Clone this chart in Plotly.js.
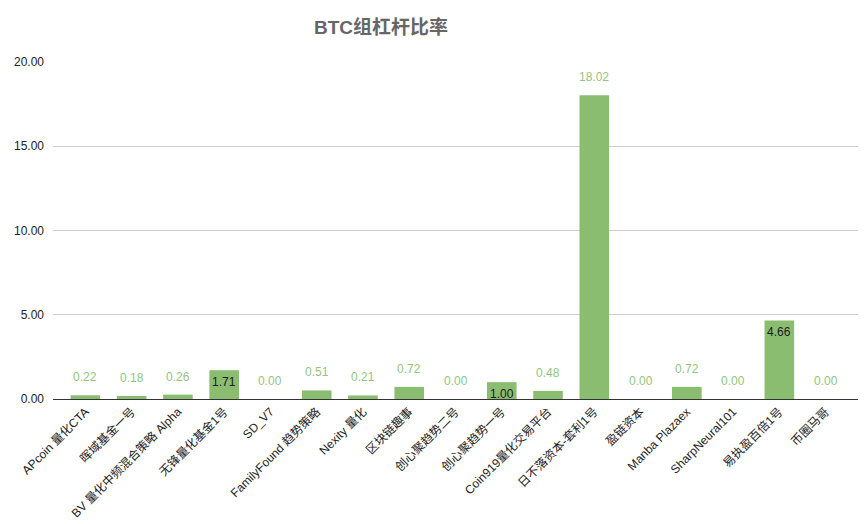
<!DOCTYPE html>
<html>
<head>
<meta charset="utf-8">
<script src="https://cdn.plot.ly/plotly-3.0.1.min.js"></script>
<style>
  html, body { margin: 0; padding: 0; background: #fff; }
  #chart { width: 868px; height: 524px; }
</style>
</head>
<body>
<div id="chart"></div>
<script>
// BTC组杠杆比率 - data
const funds = [
  'APcoin 量化CTA', '晖域基金一号', 'BV 量化中频混合策略 Alpha', '无锋量化基金1号',
  'SD_V7', 'FamilyFound 趋势策略', 'Nexity 量化', '区块链趣事',
  '创心聚趋势二号', '创心聚趋势一号', 'Coin919量化交易平台', '日不落资本-套利1号',
  '盈链资本', 'Manba Plazaex', 'SharpNeural101', '易执盈百倍1号', '币圈马哥'
];
const leverage = [0.22, 0.18, 0.26, 1.71, 0.00, 0.51, 0.21, 0.72, 0.00, 1.00, 0.48, 18.02, 0.00, 0.72, 0.00, 4.66, 0.00];
const yTicks = [0, 5, 10, 15, 20];

const FONT = 'Arial, "Liberation Sans", "Noto Sans CJK SC", sans-serif';
const BAR_GREEN = '#8bbd70';
const LABEL_GREEN = '#93c47d';

// labels drawn inside the bar (black) in the original
const insideLabels = [3, 9, 15];

const annotations = leverage.map((v, i) => {
  const inside = insideLabels.includes(i);
  return {
    x: funds[i], y: v, xref: 'x', yref: 'y',
    text: v.toFixed(2), showarrow: false,
    yanchor: inside ? 'top' : 'bottom',
    yshift: inside ? -3 : 9,
    font: {family: FONT, size: 12, color: inside ? '#1a1a1a' : LABEL_GREEN}
  };
});

Plotly.newPlot('chart', [{
  x: funds, y: leverage, type: 'bar',
  marker: {color: BAR_GREEN},
  hoverinfo: 'x+y'
}], {
  width: 868, height: 524,
  margin: {l: 53, r: 10, t: 62, b: 125},
  paper_bgcolor: '#fff', plot_bgcolor: '#fff',
  bargap: 0.36,
  showlegend: false,
  title: {
    text: '<b>BTC组杠杆比率</b>',
    x: 0.439, xref: 'container', xanchor: 'center',
    y: 0.948, yref: 'container', yanchor: 'middle',
    font: {family: FONT, size: 19, color: '#666666'}
  },
  xaxis: {
    type: 'category',
    range: [-0.7, 16.7],
    tickangle: -45,
    ticks: '', showgrid: false,
    showline: true, linecolor: '#333', linewidth: 1,
    tickfont: {family: FONT, size: 12, color: '#222'}
  },
  yaxis: {
    range: [0, 20],
    tickvals: yTicks,
    ticktext: yTicks.map(t => t.toFixed(2)),
    showgrid: true, gridcolor: '#cccccc', gridwidth: 1,
    zeroline: false, showline: false, ticks: '',
    ticklabelstandoff: 8,
    tickfont: {family: FONT, size: 12, color: '#222'}
  },
  annotations: annotations
}, {displayModeBar: false, staticPlot: true});
</script>
</body>
</html>
